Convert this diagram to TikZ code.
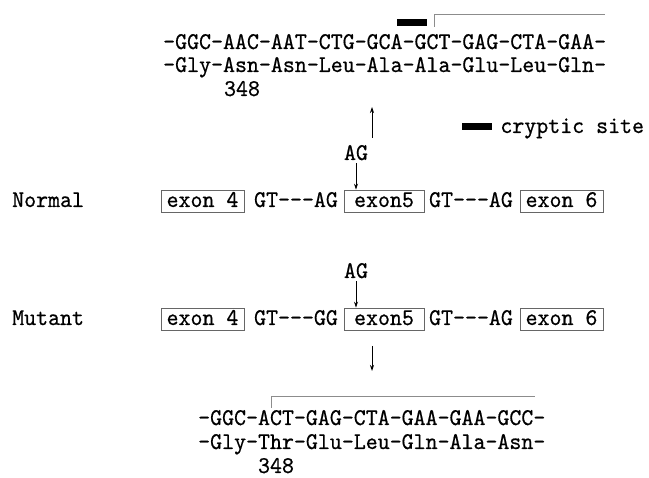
\documentclass[tikz,border=0pt]{standalone}
\usepackage{fontspec}
\usepackage{tikz}
\usetikzlibrary{arrows.meta, positioning}
\newfontfamily\seqfont{lmmono10-regular.otf}[FakeStretch=0.95, FakeBold=0.6]
\tikzset{
  seqtext/.style={font=\fontsize{24}{26}\selectfont\seqfont, inner sep=0pt,
    text height=15pt, text depth=3pt},
  exonbox/.style={seqtext, draw=black!60, line width=0.6pt, minimum height=22pt},
  sitebar/.style={fill=black, inner sep=0pt, minimum width=28pt, minimum height=7pt},
  arrow/.style={-{Stealth[length=6pt,width=4pt]}, line width=0.8pt},
  bracket/.style={black!45, line width=0.6pt}
}

\begin{document}
\begin{tikzpicture}[x=1pt, y=-1pt]
  \useasboundingbox (0,0) rectangle (649,478);

  % Normal transcript
  \node[seqtext, anchor=west] (ntop) at (163,43) {-GGC-AAC-AAT-CTG-GCA-GCT-GAG-CTA-GAA-};
  \node[seqtext, anchor=west] (naa) at (163,66) {-Gly-Asn-Asn-Leu-Ala-Ala-Glu-Leu-Gln-};
  \node[seqtext] (nnum) at (242,90) {348};
  \node[sitebar, minimum width=30pt] (nsite) at (412,23) {};
  \coordinate (nbrfoot) at (434,27);
  \coordinate (nbrend) at (605,14);
  \draw[bracket] (nbrfoot) |- (nbrend);

  % Draw legend
  \node[sitebar, minimum width=30pt] (legbar) at (477,127) {};
  \node[seqtext, right=8pt of legbar] (legtext) {cryptic site};

  % Draw both rows
  \foreach \rowy/\lab/\acc/\rn in {201/Normal/AG/n, 319/Mutant/GG/m} {
    \node[seqtext, anchor=west] (lab\rn) at (12,\rowy) {\lab};
    \node[exonbox, minimum width=83pt] (exfour\rn) at (202.5,\rowy) {exon 4};
    \node[seqtext] (infour\rn) at (296,\rowy) {GT-{}-{}-\acc};
    \node[exonbox, minimum width=80pt] (exfive\rn) at (384,\rowy) {exon5};
    \node[seqtext] (infive\rn) at (471,\rowy) {GT-{}-{}-AG};
    \node[exonbox, minimum width=83pt] (exsix\rn) at (561.5,\rowy) {exon 6};
    \node[seqtext] (ag\rn) at (356,\rowy-47) {AG};
    \draw[arrow] (ag\rn.south) -- (ag\rn.south |- exfive\rn.north);
  }

  % Draw up and down arrows
  \coordinate (upfoot) at (372,138);
  \coordinate (uphead) at (372,107);
  \draw[arrow] (upfoot) -- (uphead);
  \coordinate (downfoot) at (372,346);
  \coordinate (downhead) at (372,371);
  \draw[arrow] (downfoot) -- (downhead);

  % Mutant transcript
  \coordinate (mbrfoot) at (271,408);
  \coordinate (mbrend) at (535,396);
  \draw[bracket] (mbrfoot) |- (mbrend);
  \node[seqtext, anchor=west] (mtop) at (198,419) {-GGC-ACT-GAG-CTA-GAA-GAA-GCC-};
  \node[seqtext, anchor=west] (maa) at (198,443) {-Gly-Thr-Glu-Leu-Gln-Ala-Asn-};
  \node[seqtext] (mnum) at (276,467) {348};
\end{tikzpicture}
\end{document}
